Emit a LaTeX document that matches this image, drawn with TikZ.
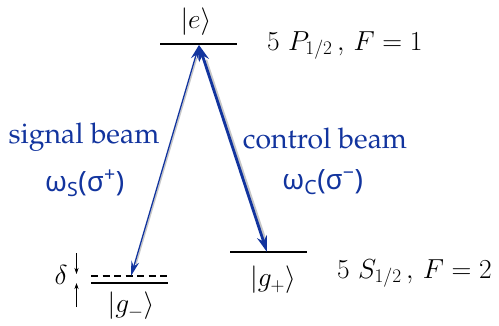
\RequirePackage{fix-cm}
\documentclass[tikz,border=0pt]{standalone}
\usepackage{fontspec}
\usetikzlibrary{arrows.meta}
\newfontfamily\grk{Noto Sans}
\newcommand{\palfont}{\fontencoding{OT1}\fontfamily{ppl}\selectfont}
\definecolor{beamblue}{RGB}{18,52,158}
\begin{document}
\begin{tikzpicture}[x=1pt,y=-1pt,
  level/.style={line width=1.3pt},
  lbl/.style={inner sep=0pt,font=\fontsize{27.5}{30}\selectfont},
  beamlbl/.style={inner sep=0pt,text=beamblue,font=\fontsize{28.4}{32}\selectfont\palfont},
  omlbl/.style={inner sep=0pt,text=beamblue,font=\fontsize{28}{32}\selectfont\grk},
  sigarrow/.style={beamblue,line width=1.3pt,{Stealth[length=15pt,width=8pt,inset=5pt]}-{Stealth[length=15pt,width=8pt,inset=5pt]}},
  ctlarrow/.style={beamblue,line width=2.8pt,{Stealth[length=16pt,width=10pt,inset=5pt]}-{Stealth[length=16pt,width=10pt,inset=5pt]}},
  shadow/.style={black!22,line width=1.4pt},
  darrow/.style={line width=0.8pt,-{Stealth[length=6pt,width=4pt]}}
]
\useasboundingbox (0,0) rectangle (499,325);
% levels
\coordinate (eL) at (160,44); \coordinate (eR) at (237,44);
\coordinate (gpL) at (230,252); \coordinate (gpR) at (307,252);
\coordinate (gmL) at (91,283); \coordinate (gmR) at (168,283);
\coordinate (dL) at (91,276); \coordinate (dR) at (168,276);
\draw[level] (eL) -- (eR);
\draw[level] (gpL) -- (gpR);
\draw[level] (gmL) -- (gmR);
\draw[level,line width=1.1pt,dash pattern=on 7pt off 4.5pt] (dL) -- (dR);
% arrow ends
\coordinate (top) at (199,45);
\coordinate (sbot) at (131,276);
\coordinate (cbot) at (267,252);
\coordinate (topS) at (196.7,58); \coordinate (sbotS) at (136,264);
\coordinate (topC) at (206,60); \coordinate (cbotS) at (265.3,240);
% shadows
\draw[shadow] (topS) -- (sbotS);
\draw[shadow,line width=2.4pt] (topC) -- (cbotS);
% beams
\draw[sigarrow] (top) -- (sbot);
\draw[ctlarrow] (top) -- (cbot);
% labels
\node[lbl] (e) at (196,22) {$|e\rangle$};
\node[lbl,anchor=base west] (P) at (267,50) {$5\ P_{1/2}\,,\,F=1$};
\node[lbl,anchor=base west] (S) at (337,278) {$5\ S_{1/2}\,,\,F=2$};
\node[lbl] (gp) at (273,280) {$|g_+\rangle$};
\node[lbl] (gm) at (131,306) {$|g_-\rangle$};
\node[lbl] (delta) at (61,275) {$\delta$};
\coordinate (d1) at (76.5,253); \coordinate (d1t) at (76.5,274);
\coordinate (d2) at (76.5,307); \coordinate (d2t) at (76.5,283);
\draw[darrow] (d1) -- (d1t);
\draw[darrow] (d2) -- (d2t);
\node[beamlbl] (sig) at (84,137) {signal beam};
\node[beamlbl] (ctl) at (325,138) {control beam};
\node[omlbl] (ws) at (84.5,183) {ω\textsubscript{S}(σ\textsuperscript{+})};
\node[omlbl] (wc) at (322.5,182) {ω\textsubscript{C}(σ\textsuperscript{−})};
\end{tikzpicture}
\end{document}
